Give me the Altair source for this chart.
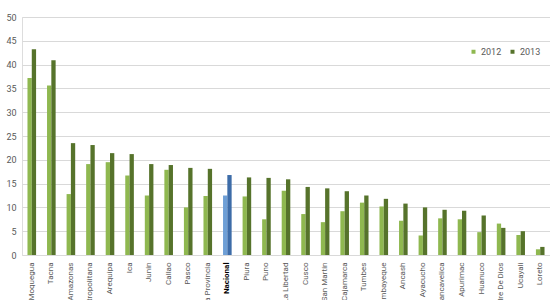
import altair as alt
import pandas as pd

regions = ["Moquegua", "Tacna", "Amazonas", "Lima Metropolitana", "Arequipa", "Ica",
           "Junin", "Callao", "Pasco", "Lima Provincia", "Nacional", "Piura", "Puno",
           "La Libertad", "Cusco", "San Martin", "Cajamarca", "Tumbes", "Lambayeque",
           "Ancash", "Ayacucho", "Huancavelica", "Apurimac", "Huanuco", "Madre De Dios",
           "Ucayali", "Loreto"]
v2012 = [37.2, 35.6, 12.8, 19.1, 19.5, 16.7, 12.5, 17.9, 10.0, 12.4, 12.5, 12.3, 7.5,
         13.5, 8.6, 6.9, 9.2, 11.0, 10.2, 7.2, 4.1, 7.7, 7.5, 4.8, 6.6, 4.2, 1.2]
v2013 = [43.2, 40.9, 23.5, 23.1, 21.4, 21.2, 19.1, 18.9, 18.3, 18.1, 16.8, 16.3, 16.2,
         15.9, 14.3, 14.0, 13.4, 12.5, 11.8, 10.8, 10.0, 9.5, 9.3, 8.3, 5.7, 5.0, 1.7]
years = ["2012", "2013"]
y_ticks = [0, 5, 10, 15, 20, 25, 30, 35, 40, 45, 50]

rows = []
for r, a, b in zip(regions, v2012, v2013):
    for yr, v in zip(years, [a, b]):
        key = ("Nacional " + yr) if r == "Nacional" else yr
        rows.append({"region": r, "year": yr, "value": v, "key": key})
df = pd.DataFrame(rows)

color_domain = ["2012", "2013", "Nacional 2012", "Nacional 2013"]
color_range = ["#8fb850", "#56732b", "#6e9fd6", "#3d6ca8"]

pi = 0.56
chart = alt.Chart(df).mark_bar().encode(
    x=alt.X("region:N", sort=regions,
            scale=alt.Scale(paddingInner=pi, paddingOuter=pi / 2),
            axis=alt.Axis(title=None, labelAngle=-90, ticks=False, domain=False,
                          labelPadding=7, labelFontSize=8, labelFont="Roboto",
                          labelLimit=0,
                          labelColor={"expr": "datum.value == 'Nacional' ? '#000000' : '#595959'"},
                          labelFontWeight={"expr": "datum.value == 'Nacional' ? 'bold' : 'normal'"})),
    xOffset=alt.XOffset("year:N", sort=years),
    y=alt.Y("value:Q", scale=alt.Scale(domain=[0, 50], nice=False),
            axis=alt.Axis(title=None, values=y_ticks, ticks=False, domain=False,
                          labelFontSize=9, labelFont="Roboto", labelColor="#595959",
                          labelPadding=6, gridColor="#d9d9d9", gridWidth=1)),
    color=alt.Color("key:N",
                    scale=alt.Scale(domain=color_domain, range=color_range),
                    legend=alt.Legend(values=years, title=None, orient="none",
                                      direction="horizontal", legendX=447, legendY=30,
                                      symbolType="square", symbolSize=16,
                                      symbolStrokeWidth=0,
                                      labelFontSize=9, labelFont="Roboto",
                                      labelColor="#595959", columnPadding=6,
                                      labelOffset=3)),
).properties(
    width=528, height=238,
    autosize=alt.AutoSizeParams(type="none"),
    padding={"left": 22, "top": 17, "right": 0, "bottom": 45},
).configure_view(stroke=None).configure(background="white")

chart.save("out.html", embed_options={"renderer": "svg", "actions": False})
